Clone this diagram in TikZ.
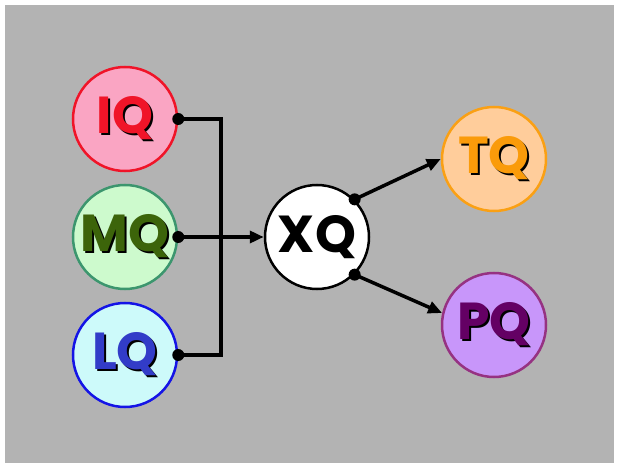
\documentclass[tikz,border=0pt]{standalone}
\usepackage{fontspec}
\newfontfamily\qfont{Poppins}[UprightFont=* Bold]
\usetikzlibrary{arrows.meta}
\definecolor{bg}{RGB}{179,179,179}
\definecolor{iqfill}{RGB}{250,165,195}
\definecolor{iqline}{RGB}{240,20,40}
\definecolor{mqfill}{RGB}{205,250,205}
\definecolor{mqline}{RGB}{60,150,110}
\definecolor{mqtext}{RGB}{60,100,10}
\definecolor{lqfill}{RGB}{205,250,250}
\definecolor{lqline}{RGB}{20,20,230}
\definecolor{lqtext}{RGB}{50,60,200}
\definecolor{tqfill}{RGB}{255,205,155}
\definecolor{tqline}{RGB}{250,160,20}
\definecolor{tqtext}{RGB}{250,155,10}
\definecolor{pqfill}{RGB}{200,150,250}
\definecolor{pqline}{RGB}{150,50,130}
\definecolor{pqtext}{RGB}{100,0,100}
\tikzset{
  qcirc/.style={circle, minimum size=104pt, inner sep=0pt, line width=2.5pt},
  qtext/.style={font=\qfont\fontsize{52}{52}\selectfont, inner sep=0pt},
  conn/.style={line width=3.5pt, black},
  arr/.style={conn, -{Triangle[length=14pt,width=12pt]}},
  qdot/.style={circle, fill=black, inner sep=0pt, minimum size=12pt}
}
\newcommand{\shadowed}[2]{%
  \makebox[0pt][l]{\hspace{2pt}\raisebox{-2pt}{\textcolor{black}{#2}}}\textcolor{#1}{#2}}
\begin{document}
\begin{tikzpicture}[x=1pt,y=-1pt]
\useasboundingbox (0,0) rectangle (624,465);
\fill[white] (0,0) rectangle (624,465);
\fill[bg] (5,5) rectangle (614,463);
\node[qcirc, draw=iqline, fill=iqfill, qtext] (IQ) at (125,119) {\shadowed{iqline}{IQ}};
\node[qcirc, draw=mqline, fill=mqfill, qtext] (MQ) at (125,237) {\shadowed{mqtext}{MQ}};
\node[qcirc, draw=lqline, fill=lqfill, qtext] (LQ) at (125,355) {\shadowed{lqtext}{LQ}};
\node[qcirc, draw=black, fill=white, qtext] (XQ) at (317,237) {XQ};
\node[qcirc, draw=tqline, fill=tqfill, qtext] (TQ) at (494,159) {\shadowed{tqtext}{TQ}};
\node[qcirc, draw=pqline, fill=pqfill, qtext] (PQ) at (494,325) {\shadowed{pqtext}{PQ}};
\coordinate (bus) at (221,237);
\draw[conn] (IQ.east) -| (bus) |- (LQ.east);
\draw[arr] (MQ.east) -- (XQ.west);
\draw[arr] (XQ.45) -- (TQ.west);
\draw[arr] (XQ.-45) -- (PQ.167);
\node[qdot] (d1) at (IQ.east) {};
\node[qdot] (d2) at (MQ.east) {};
\node[qdot] (d3) at (LQ.east) {};
\node[qdot] (d4) at (XQ.45) {};
\node[qdot] (d5) at (XQ.-45) {};
\end{tikzpicture}
\end{document}
